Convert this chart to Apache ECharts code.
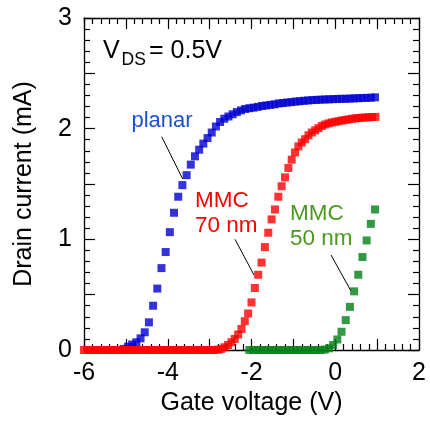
<!DOCTYPE html>
<html>
<head>
<meta charset="utf-8">
<script src="https://cdn.jsdelivr.net/npm/echarts@6/dist/echarts.min.js"></script>
<style>
  html, body { margin: 0; padding: 0; background: #fff; }
  #chart { width: 430px; height: 421px; }
</style>
</head>
<body>
<div id="chart"></div>
<script>
// ---------------- data ----------------
const xTickLabels = ['-6', '-4', '-2', '0', '2'];
const yTickLabels = ['0', '1', '2', '3'];

const planarV = [-5.05,-4.95,-4.85,-4.75,-4.65,-4.55,-4.45,-4.35,-4.25,-4.15,
  -4.05,-3.95,-3.85,-3.75,-3.65,-3.55,-3.45,-3.35,-3.25,-3.15,
  -3.05,-2.95,-2.85,-2.75,-2.65,-2.55,-2.45,-2.35,-2.25,-2.15,
  -2.05,-1.95,-1.85,-1.75,-1.65,-1.55,-1.45,-1.35,-1.25,-1.15,
  -1.05,-0.95,-0.85,-0.75,-0.65,-0.55,-0.45,-0.35,-0.25,-0.15,
  -0.05,0.05,0.15,0.25,0.35,0.45,0.55,0.65,0.75,0.85,0.95];
const planarI = [0.01,0.03,0.05,0.07,0.105,0.16,0.25,0.40,0.555,0.74,
  0.885,1.065,1.24,1.385,1.49,1.58,1.675,1.75,1.81,1.865,
  1.915,1.965,2.02,2.06,2.09,2.11,2.13,2.15,2.165,2.178,
  2.185,2.19,2.197,2.205,2.21,2.215,2.22,2.228,2.232,2.236,
  2.24,2.245,2.248,2.252,2.255,2.258,2.26,2.262,2.264,2.265,
  2.267,2.268,2.27,2.27,2.272,2.274,2.275,2.277,2.278,2.28,2.283];

const mmc70V = [-6.00,-5.92,-5.84,-5.76,-5.68,-5.60,-5.52,-5.44,-5.36,-5.28,
  -5.20,-5.12,-5.04,-4.96,-4.88,-4.80,-4.72,-4.64,-4.56,-4.48,
  -4.40,-4.32,-4.24,-4.16,-4.08,-4.00,-3.92,-3.84,-3.76,-3.68,
  -3.60,-3.52,-3.44,-3.36,-3.28,-3.20,-3.12,-3.04,-2.96,-2.88,
  -2.80,-2.72,-2.64,-2.56,-2.48,-2.40,-2.32,-2.24,-2.16,-2.08,
  -2.00,-1.92,-1.84,-1.76,-1.68,-1.60,-1.52,-1.44,-1.36,-1.28,
  -1.20,-1.12,-1.04,-0.96,-0.88,-0.80,-0.72,-0.64,-0.56,-0.48,
  -0.40,-0.32,-0.24,-0.16,-0.08,0.00,0.08,0.16,0.24,0.32,
  0.40,0.48,0.56,0.64,0.72,0.80,0.88,0.96];
const mmc70I = [0,0,0,0,0,0,0,0,0,0,
  0,0,0,0,0,0,0,0,0,0,
  0,0,0,0,0,0,0,0,0,0,
  0,0,0,0,0,0,0,0,0,0,
  0.003,0.01,0.025,0.045,0.07,0.10,0.14,0.19,0.26,0.33,
  0.43,0.56,0.68,0.79,0.93,1.06,1.18,1.27,1.385,1.48,
  1.56,1.645,1.72,1.785,1.84,1.875,1.905,1.94,1.965,1.985,
  2.005,2.025,2.038,2.048,2.056,2.062,2.068,2.074,2.079,2.084,
  2.089,2.093,2.096,2.099,2.101,2.103,2.105,2.106];

const mmc50V = [-2.05,-1.95,-1.85,-1.75,-1.65,-1.55,-1.45,-1.35,-1.25,-1.15,
  -1.05,-0.95,-0.85,-0.75,-0.65,-0.55,-0.45,-0.35,-0.25,-0.15,
  -0.05,0.05,0.15,0.25,0.35,0.45,0.55,0.65,0.75,0.85,0.95];
const mmc50I = [0,0,0,0,0,0,0,0,0,0,
  0,0,0,0,0,0,0,0,0.004,0.015,
  0.045,0.095,0.165,0.27,0.39,0.53,0.68,0.84,0.99,1.14,1.27];

// ---------------- chart ----------------
const FONT = '"Liberation Sans", Arial, Helvetica, sans-serif';
const zip = (a, b) => a.map((v, i) => [v, b[i]]);

const chart = echarts.init(document.getElementById('chart'), null, { renderer: 'canvas' });

const axisLine = { show: true, onZero: false, lineStyle: { color: '#000', width: 1.3 } };
const axisTick = { show: true, inside: true, length: 11, lineStyle: { color: '#000', width: 1.2 } };
const minorTick = { show: true, splitNumber: 5, length: 6, lineStyle: { color: '#000', width: 1.2 } };

const xBase = { type: 'value', min: -6, max: 2, interval: 1, axisLine, axisTick, minorTick,
  splitLine: { show: false }, minorSplitLine: { show: false } };
const yBase = { type: 'value', min: 0, max: 3, interval: 0.5, axisLine, axisTick, minorTick,
  splitLine: { show: false }, minorSplitLine: { show: false } };

const MS = 8;

chart.setOption({
  animation: false,
  backgroundColor: '#fff',
  grid: { left: 84, right: 11, top: 18, bottom: 71, containLabel: false },
  xAxis: [
    Object.assign({}, xBase, {
      position: 'bottom',
      name: 'Gate voltage (V)', nameLocation: 'middle', nameGap: 38,
      nameTextStyle: { fontFamily: FONT, fontSize: 25, color: '#000' },
      axisLabel: { show: true, margin: 11, fontFamily: FONT, fontSize: 25, color: '#000',
        formatter: v => { const s = String(v); return xTickLabels.indexOf(s) >= 0 ? s : ''; } }
    }),
    Object.assign({}, xBase, { position: 'top', axisLabel: { show: false } })
  ],
  yAxis: [
    Object.assign({}, yBase, {
      position: 'left',
      name: 'Drain current (mA)', nameLocation: 'middle', nameGap: 47,
      nameTextStyle: { fontFamily: FONT, fontSize: 25, color: '#000' },
      axisLabel: { show: true, margin: 12, fontFamily: FONT, fontSize: 25, color: '#000',
        formatter: v => { const s = String(v); return yTickLabels.indexOf(s) >= 0 ? s : ''; } }
    }),
    Object.assign({}, yBase, { position: 'right', axisLabel: { show: false } })
  ],
  series: [
    { name: 'planar', type: 'scatter', symbol: 'rect', symbolSize: MS, clip: false,
      itemStyle: { color: '#0000d0' }, data: zip(planarV, planarI), z: 2 },
    { name: 'MMC 70 nm', type: 'scatter', symbol: 'rect', symbolSize: MS, clip: false,
      itemStyle: { color: '#ff0000' }, data: zip(mmc70V, mmc70I), z: 3 },
    { name: 'MMC 50 nm', type: 'scatter', symbol: 'rect', symbolSize: MS, clip: false,
      itemStyle: { color: '#007f15' }, data: zip(mmc50V, mmc50I), z: 4 }
  ],
  graphic: [
    { type: 'text', z: 10, style: { text: 'V', x: 103, y: 51.3, fill: '#000', font: '25px ' + FONT, align: 'left', verticalAlign: 'middle', textAlign: 'left', textVerticalAlign: 'middle' } },
    { type: 'text', z: 10, style: { text: 'DS', x: 121.5, y: 59.9, fill: '#000', font: '17.5px ' + FONT, align: 'left', verticalAlign: 'middle', textAlign: 'left', textVerticalAlign: 'middle' } },
    { type: 'text', z: 10, style: { text: '= 0.5V', x: 149, y: 51.3, fill: '#000', font: '25px ' + FONT, align: 'left', verticalAlign: 'middle', textAlign: 'left', textVerticalAlign: 'middle' } },

    { type: 'text', z: 10, style: { text: 'planar', x: 131.5, y: 121.4, fill: '#1c4fd2', font: '22px ' + FONT, align: 'left', verticalAlign: 'middle', textAlign: 'left', textVerticalAlign: 'middle' } },
    { type: 'line', z: 10, shape: { x1: 161.7, y1: 136.7, x2: 182.7, y2: 179 }, style: { stroke: '#000', lineWidth: 1 } },

    { type: 'text', z: 10, style: { text: 'MMC', x: 195, y: 200.5, fill: '#ff0000', font: '22.5px ' + FONT, align: 'left', verticalAlign: 'middle', textAlign: 'left', textVerticalAlign: 'middle' } },
    { type: 'text', z: 10, style: { text: '70 nm', x: 195, y: 225.5, fill: '#ff0000', font: '22.5px ' + FONT, align: 'left', verticalAlign: 'middle', textAlign: 'left', textVerticalAlign: 'middle' } },
    { type: 'line', z: 10, shape: { x1: 235, y1: 239.3, x2: 254, y2: 275 }, style: { stroke: '#000', lineWidth: 1 } },

    { type: 'text', z: 10, style: { text: 'MMC', x: 290, y: 213.9, fill: '#4a9a1c', font: '22.5px ' + FONT, align: 'left', verticalAlign: 'middle', textAlign: 'left', textVerticalAlign: 'middle' } },
    { type: 'text', z: 10, style: { text: '50 nm', x: 290, y: 239.2, fill: '#4a9a1c', font: '22.5px ' + FONT, align: 'left', verticalAlign: 'middle', textAlign: 'left', textVerticalAlign: 'middle' } },
    { type: 'line', z: 10, shape: { x1: 331, y1: 255, x2: 350.7, y2: 290.5 }, style: { stroke: '#000', lineWidth: 1 } }
  ]
});
</script>
</body>
</html>
